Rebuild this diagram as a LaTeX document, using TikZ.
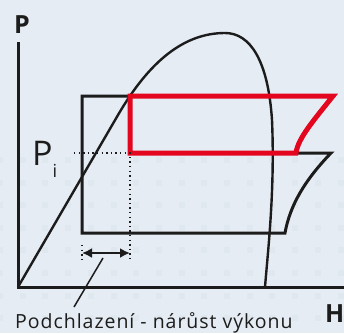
\documentclass[tikz,border=0pt]{standalone}
\usepackage{fontspec}
\setmainfont{Open Sans}
\usetikzlibrary{arrows.meta}
\definecolor{bgblue}{RGB}{229,236,243}
\definecolor{gridsq}{RGB}{223,231,239}
\definecolor{cyclered}{RGB}{227,6,30}
\definecolor{ink}{RGB}{28,28,28}
\begin{document}
\begin{tikzpicture}[x=1pt,y=-1pt,
  curve/.style={draw=ink,line width=2.6pt},
  guide/.style={draw=ink,line width=1.3pt,dash pattern=on 1.3pt off 3.3pt},
  axislabel/.style={font=\fontsize{25}{25}\selectfont\bfseries,text=ink,inner sep=0pt}]
% Background
\fill[bgblue] (0,0) rectangle (344,333);
\useasboundingbox (0,0) rectangle (344,333);
\foreach \i in {0,...,15}
  \foreach \j in {0,...,7}
    \fill[gridsq] ({22.7*\i-3},{160+22.6*\j-3}) rectangle +(6,6);
% Axes
\coordinate (ptop) at (18,42);
\coordinate (origin) at (18,287);
\coordinate (hend) at (344,287);
\draw[curve,line width=3pt] (ptop) -- (origin) -- (hend);
\node[axislabel,anchor=base west] (plabel) at (14,33) {P};
\node[axislabel,anchor=base west] (hlabel) at (325,322) {H};
% Saturation dome
\draw[curve,line width=2.4pt] (origin) -- (118,115) .. controls (150,60) and (185,33) .. (225,33)
  .. controls (250,33) and (268,60) .. (272,120)
  .. controls (275,190) and (268,250) .. (265,287);
% Original cycle
\coordinate (b1) at (82,96);
\coordinate (b2) at (130,96);
\coordinate (b3) at (82,233);
\coordinate (b4) at (285,233);
\coordinate (b5) at (331,153);
\coordinate (b6) at (296,153);
\draw[curve,line width=3pt] (b2) -- (b1) -- (b3) -- (b4)
  .. controls (290,205) and (305,180) .. (b5) -- (b6);
% Improved cycle
\coordinate (r1) at (333,96);
\coordinate (r2) at (130,153);
\draw[cyclered,line width=5pt,miter limit=20] (b2) -- (r1)
  .. controls (314,120) and (298,138) .. (b6) -- (r2) -- cycle;
% Pressure level and subcooling
\coordinate (pi) at (74,153);
\coordinate (d1) at (130,261);
\coordinate (d2) at (82,245);
\coordinate (d3) at (82,261);
\draw[guide] (pi) -- (r2) -- (d1);
\draw[guide] (d2) -- (d3);
\node[font=\fontsize{34}{34}\selectfont,text=ink,inner sep=0pt,anchor=base west] (pilabel) at (32,165)
  {P\raisebox{-12pt}{\fontsize{18}{18}\selectfont i}};
\coordinate (a1) at (82,253);
\coordinate (a2) at (130,253);
\draw[ink,line width=2pt,{Latex[length=10pt,width=10pt]}-{Latex[length=10pt,width=10pt]}] (a1) -- (a2);
% Label
\coordinate (lead) at (103,258);
\coordinate (leadend) at (74,307);
\draw[ink,line width=1.5pt] (lead) -- (leadend);
\node[font=\fontsize{19.5}{19.5}\selectfont\addfontfeatures{LetterSpace=5},text=ink,inner sep=0pt,anchor=base west] (note) at (15,328)
  {Podchlazení - nárůst výkonu};
\end{tikzpicture}
\end{document}
